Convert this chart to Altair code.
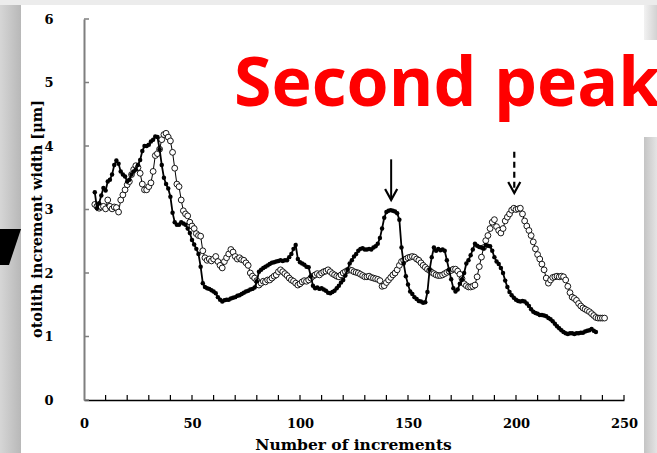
import altair as alt
import pandas as pd

# ---------------- data ----------------
filled_start = 5
filled_width = [
    3.27, 3.02, 3.10, 3.22, 3.34, 3.30, 3.44, 3.47, 3.55, 3.70,
    3.77, 3.72, 3.60, 3.55, 3.52, 3.44, 3.47, 3.55, 3.60, 3.63,
    3.70, 3.78, 3.92, 4.00, 4.00, 4.02, 4.07, 4.10, 4.15, 4.14,
    3.95, 3.70, 3.50, 3.40, 3.33, 3.20, 2.95, 2.80, 2.76, 2.76,
    2.80, 2.78, 2.76, 2.70, 2.63, 2.52, 2.45, 2.38, 2.30, 2.10,
    1.84, 1.78, 1.76, 1.75, 1.73, 1.71, 1.68, 1.62, 1.58, 1.55,
    1.57, 1.58, 1.58, 1.60, 1.61, 1.62, 1.64, 1.65, 1.67, 1.69,
    1.71, 1.72, 1.74, 1.75, 1.77, 1.87, 2.02, 2.05, 2.08, 2.10,
    2.12, 2.14, 2.16, 2.17, 2.18, 2.19, 2.20, 2.19, 2.20, 2.20,
    2.25, 2.30, 2.38, 2.44, 2.22, 2.17, 2.15, 2.13, 2.10, 2.09,
    1.95, 1.80, 1.76, 1.77, 1.75, 1.76, 1.74, 1.72, 1.69, 1.68,
    1.70, 1.72, 1.76, 1.80, 1.85, 1.89, 1.96, 2.05, 2.15, 2.20,
    2.26, 2.30, 2.35, 2.38, 2.39, 2.37, 2.37, 2.38, 2.37, 2.40,
    2.42, 2.46, 2.55, 2.70, 2.87, 2.96, 2.98, 2.99, 2.98, 2.97,
    2.94, 2.84, 2.40, 2.15, 1.95, 1.82, 1.71, 1.67, 1.62, 1.59,
    1.56, 1.55, 1.53, 1.54, 1.70, 2.05, 2.25, 2.40, 2.35, 2.38,
    2.36, 2.37, 2.35, 2.20, 2.05, 1.90, 1.76, 1.71, 1.74, 1.83,
    1.90, 2.00, 2.15, 2.20, 2.28, 2.37, 2.46, 2.43, 2.41, 2.40,
    2.39, 2.44, 2.43, 2.42, 2.35, 2.25, 2.18, 2.14, 2.08, 2.00,
    1.88, 1.78, 1.70, 1.65, 1.61, 1.58, 1.56, 1.55, 1.56, 1.55,
    1.52, 1.48, 1.43, 1.39, 1.37, 1.36, 1.34, 1.34, 1.33, 1.32,
    1.29, 1.27, 1.24, 1.20, 1.16, 1.13, 1.10, 1.07, 1.05, 1.04,
    1.05, 1.05, 1.04, 1.05, 1.05, 1.06, 1.06, 1.08, 1.09, 1.10,
    1.12, 1.09, 1.07,
]

open_start = 5
open_width = [
    3.08, 3.05, 3.02, 3.04, 3.05, 3.01, 3.15, 3.05, 3.01, 3.04,
    3.03, 2.96, 3.15, 3.23, 3.31, 3.39, 3.44, 3.55, 3.63, 3.69,
    3.66, 3.57, 3.40, 3.31, 3.31, 3.36, 3.42, 3.60, 3.85, 3.88,
    3.95, 4.10, 4.18, 4.20, 4.14, 4.08, 3.90, 3.65, 3.40, 3.36,
    3.15, 2.98, 2.93, 2.90, 2.80, 2.74, 2.70, 2.62, 2.59, 2.58,
    2.35, 2.24, 2.20, 2.22, 2.19, 2.22, 2.26, 2.18, 2.12, 2.08,
    2.18, 2.24, 2.30, 2.37, 2.33, 2.26, 2.22, 2.24, 2.21, 2.20,
    2.16, 2.12, 2.00, 1.95, 1.92, 1.88, 1.81, 1.84, 1.87, 1.86,
    1.89, 1.89, 1.92, 1.95, 1.97, 2.02, 2.05, 2.02, 1.99, 1.96,
    1.92, 1.89, 1.87, 1.84, 1.81, 1.83, 1.86, 1.88, 1.87, 1.89,
    1.92, 1.95, 1.97, 1.99, 1.97, 2.00, 2.02, 2.03, 2.05, 2.02,
    1.99, 1.97, 1.95, 1.94, 1.97, 2.00, 2.02, 2.04, 2.05, 2.04,
    2.02, 2.01, 2.00, 1.98, 1.96, 1.94, 1.94, 1.95, 1.93, 1.92,
    1.91, 1.90, 1.88, 1.79, 1.80, 1.85, 1.89, 1.93, 1.97, 2.00,
    2.05, 2.12, 2.18, 2.20, 2.22, 2.24, 2.25, 2.26, 2.25, 2.22,
    2.20, 2.16, 2.12, 2.09, 2.06, 2.04, 2.01, 1.99, 1.97, 1.96,
    1.96, 1.97, 1.99, 2.01, 2.03, 2.04, 2.06, 2.06, 2.03, 1.98,
    1.91, 1.83, 1.80, 1.78, 1.78, 1.79, 1.81, 1.94, 2.10, 2.25,
    2.40, 2.51, 2.59, 2.70, 2.80, 2.84, 2.73, 2.67, 2.63, 2.70,
    2.82, 2.88, 2.93, 2.99, 3.02, 3.00, 3.01, 3.02, 2.93, 2.82,
    2.74, 2.67, 2.59, 2.49, 2.38, 2.29, 2.22, 2.14, 2.05, 1.92,
    1.84, 1.89, 1.93, 1.94, 1.95, 1.94, 1.95, 1.94, 1.89, 1.79,
    1.69, 1.62, 1.60, 1.57, 1.52, 1.48, 1.45, 1.43, 1.41, 1.39,
    1.36, 1.33, 1.30, 1.29, 1.29, 1.29, 1.29,
]

x_label_values = [0, 50, 100, 150, 200, 250]
x_tick_values = list(range(10, 260, 10))
y_tick_values = [0, 1, 2, 3, 4, 5, 6]

# arrows marking the second peaks (solid: filled series, dashed: open series)
arrow_n = [142.2, 199.2]
arrow_top = [3.79, 3.91]
arrow_tip = [3.15, 3.26]
arrow_style = ["solid", "dashed"]

title_text = "Second peak"

# ---------------- chart ----------------
W, H = 540, 381
XS = alt.Scale(domain=[0, 250], nice=False, zero=False)
YS = alt.Scale(domain=[0, 6], nice=False, zero=False)

filled_df = pd.DataFrame({"n": list(range(filled_start, filled_start + len(filled_width))),
                          "w": filled_width})
open_df = pd.DataFrame({"n": list(range(open_start, open_start + len(open_width))),
                        "w": open_width})
one = pd.DataFrame({"k": [0]})

font = "DejaVu Serif"

x_axis = alt.Axis(values=x_label_values, ticks=False, grid=False,
                  labelFont=font, labelFontWeight="bold", labelFontSize=13,
                  labelColor="black", labelPadding=17, labelFlush=False,
                  domainColor="black", domainWidth=1.5,
                  title="Number of increments", titleFont=font,
                  titleFontSize=15.5, titleFontWeight="bold", titleColor="black",
                  titleX=269, titleY=49, titleBaseline="alphabetic",
                  titleAlign="center")
y_axis = alt.Axis(values=y_tick_values, ticks=False, grid=False,
                  labelFont=font, labelFontWeight="bold", labelFontSize=13,
                  labelColor="black", labelPadding=31,
                  domainColor="#7f7f7f", domainWidth=2,
                  title="otolith increment width [μm]", titleFont=font,
                  titleFontSize=14.5, titleFontWeight="bold", titleColor="black",
                  titleX=-47, titleY=199.5, titleAngle=270,
                  titleBaseline="middle", titleAlign="center")


def X(field):
    return alt.X(field, type="quantitative", scale=XS, axis=x_axis)


def Y(field):
    return alt.Y(field, type="quantitative", scale=YS, axis=y_axis)


def grad(c1, c2):
    return alt.LinearGradient(
        gradient="linear",
        stops=[alt.GradientStop(color=c1, offset=0), alt.GradientStop(color=c2, offset=1)],
        x1=0, x2=1, y1=0, y2=0)


# page decorations (slide shadows)
left_strip = alt.Chart(one).mark_rect(color=grad("#d6d6d6", "#b8b8b8")).encode(
    x=alt.value(-84), x2=alt.value(-63), y=alt.value(-19), y2=alt.value(434))
top_strip = alt.Chart(one).mark_rect(color="#ececec").encode(
    x=alt.value(-84), x2=alt.value(573), y=alt.value(-19), y2=alt.value(-14))
right_top = alt.Chart(one).mark_rect(color=grad("#f2f2f2", "#d2d2d2")).encode(
    x=alt.value(560), x2=alt.value(573), y=alt.value(-14), y2=alt.value(21))
right_bot = alt.Chart(one).mark_rect(color=grad("#c4c4c4", "#e4e4e4")).encode(
    x=alt.value(560), x2=alt.value(573), y=alt.value(118), y2=alt.value(434))
black_shape = alt.Chart(one).mark_point(
    shape="M-0.583,-1L0.583,-1L-0.083,1L-0.583,1Z", filled=True, color="black",
    opacity=1, size=1296).encode(x=alt.value(-73.5), y=alt.value(228))

# inward ticks
x_ticks = alt.Chart(pd.DataFrame({"t": x_tick_values})).mark_rule(
    color="black", strokeWidth=1.2).encode(
    x=X("t"), y=alt.value(H), y2=alt.value(H - 5))
y_ticks = alt.Chart(pd.DataFrame({"t": y_tick_values})).mark_rule(
    color="#7f7f7f", strokeWidth=1.5).encode(
    y=Y("t"), x=alt.value(0), x2=alt.value(5))

# series
open_line = alt.Chart(open_df).mark_line(color="black", strokeWidth=1).encode(
    x=X("n"), y=Y("w"))
open_pts = alt.Chart(open_df).mark_point(
    shape="circle", filled=True, fill="white", stroke="black",
    strokeWidth=0.9, opacity=1, size=34).encode(x=X("n"), y=Y("w"))
filled_line = alt.Chart(filled_df).mark_line(color="black", strokeWidth=1.8).encode(
    x=X("n"), y=Y("w"))
filled_pts = alt.Chart(filled_df).mark_point(
    shape="circle", filled=True, color="black", opacity=1, size=20).encode(
    x=X("n"), y=Y("w"))

# arrows
arrow_df = pd.DataFrame({"n": arrow_n, "top": arrow_top, "tip": arrow_tip,
                         "style": arrow_style})
shaft_solid = alt.Chart(arrow_df[arrow_df["style"] == "solid"]).mark_rule(
    color="black", strokeWidth=2).encode(
    x=X("n"), y=Y("top"), y2=alt.Y2("tip"))
shaft_dashed = alt.Chart(arrow_df[arrow_df["style"] == "dashed"]).mark_rule(
    color="black", strokeWidth=2.2, strokeDash=[6, 4]).encode(
    x=X("n"), y=Y("top"), y2=alt.Y2("tip"))
heads = alt.Chart(arrow_df).mark_point(
    shape="M-0.55,-1L0,0L0.55,-1", filled=False, color="black",
    strokeWidth=2.2, opacity=1, size=484).encode(x=X("n"), y=Y("tip"))

title = alt.Chart(one).mark_text(
    text=title_text, align="left", baseline="alphabetic", font="Open Sans",
    fontWeight="bold", fontSize=68, color="#ff0000").encode(
    x=alt.value(150), y=alt.value(87))

chart = alt.layer(
    left_strip, top_strip, right_top, right_bot, black_shape,
    open_line, x_ticks, y_ticks, open_pts, filled_line, filled_pts,
    shaft_solid, shaft_dashed, heads, title,
).properties(
    width=W, height=H,
    autosize=alt.AutoSizeParams(type="none"),
    padding={"left": 84, "top": 19, "right": 33, "bottom": 53},
    background="white",
).configure_view(stroke=None)

chart.save("out.html", embed_options={"renderer": "svg", "actions": False})
